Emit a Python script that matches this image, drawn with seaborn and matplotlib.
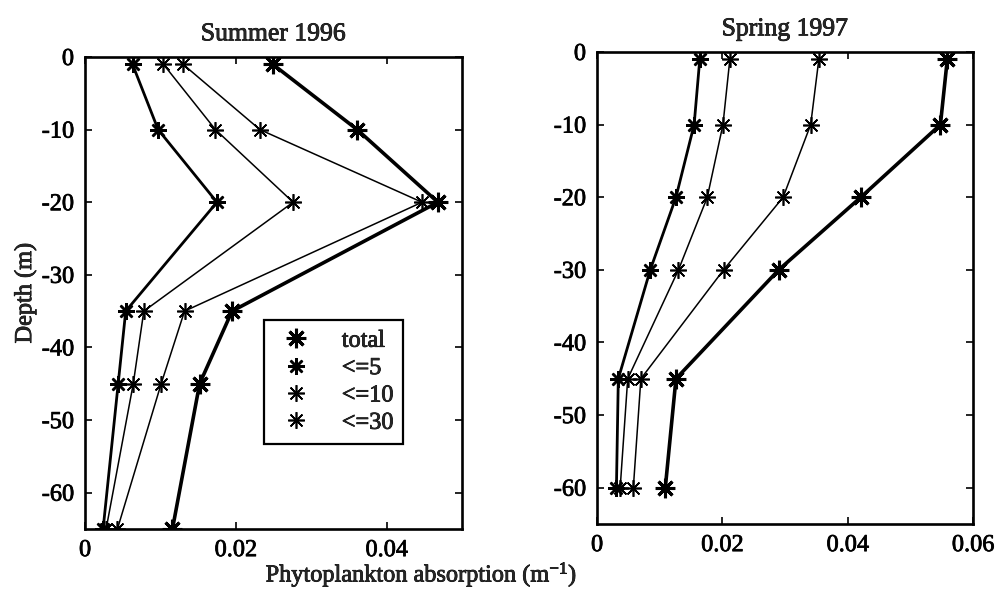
import matplotlib
matplotlib.use("Agg")
import matplotlib.pyplot as plt
import matplotlib.patheffects as pe
from matplotlib.lines import Line2D
import numpy as np
import pandas as pd
import seaborn as sns

# ---- data ----
summer_depth = [-1, -10, -20, -35, -45, -65]
summer_total = [0.0249, 0.0361, 0.0468, 0.0195, 0.0152, 0.0116]
summer_le5 = [0.0063, 0.0097, 0.0175, 0.0054, 0.0044, 0.0024]
summer_le10 = [0.0104, 0.0173, 0.0276, 0.0078, 0.0064, 0.0028]
summer_le30 = [0.0130, 0.0232, 0.0447, 0.0132, 0.0101, 0.0043]

spring_depth = [-1, -10, -20, -30, -45, -60]
spring_total = [0.0559, 0.0548, 0.0421, 0.0290, 0.0126, 0.0109]
spring_le5 = [0.0164, 0.0155, 0.0126, 0.0085, 0.0034, 0.0031]
spring_le10 = [0.0212, 0.0201, 0.0176, 0.0130, 0.0049, 0.0037]
spring_le30 = [0.0354, 0.0341, 0.0297, 0.0202, 0.0070, 0.0058]

series_labels = ["total", "<=5", "<=10", "<=30"]
panel_titles = ["Summer 1996", "Spring 1997"]
summer_xticks = [0, 0.02, 0.04]
spring_xticks = [0, 0.02, 0.04, 0.06]
yticks = [0, -10, -20, -30, -40, -50, -60]

sns.set_style("ticks")
plt.rcParams["font.family"] = ["Liberation Serif", "DejaVu Serif"]
plt.rcParams["mathtext.fontset"] = "custom"
plt.rcParams["mathtext.rm"] = "Liberation Serif"
plt.rcParams["mathtext.it"] = "Liberation Serif"

FS = 17.5
INK = [pe.withStroke(linewidth=0.55, foreground="black")]
styles = {
    "total": dict(lw=2.6, ms=14, mew=2.2),
    "<=5": dict(lw=2.0, ms=12, mew=1.8),
    "<=10": dict(lw=1.1, ms=12, mew=1.2),
    "<=30": dict(lw=1.1, ms=12, mew=1.2),
}
MK = (8, 2, 0)

fig = plt.figure(figsize=(10.05, 5.9), dpi=100)
W, H = 1005, 590
ax1 = fig.add_axes([85 / W, 1 - 529 / H, 377 / W, 472 / H])
ax2 = fig.add_axes([597 / W, 1 - 524 / H, 376 / W, 472 / H])

panels = [
    (ax1, summer_depth, [summer_total, summer_le5, summer_le10, summer_le30], (0, 0.05), summer_xticks),
    (ax2, spring_depth, [spring_total, spring_le5, spring_le10, spring_le30], (0, 0.06), spring_xticks),
]

for (ax, depth, series, xlim, xt), title in zip(panels, panel_titles):
    for lab, vals in zip(series_labels, series):
        df = pd.DataFrame({"absorption": vals, "depth": depth})
        st = styles[lab]
        sns.lineplot(data=df, x="absorption", y="depth", sort=False, estimator=None,
                     color="black", linewidth=st["lw"], marker=MK, markersize=st["ms"],
                     markeredgewidth=st["mew"], markeredgecolor="black",
                     legend=False, ax=ax)
    ax.set_xlim(*xlim)
    ax.set_ylim(-65, 0)
    ax.set_xticks(xt)
    ax.set_xticklabels([("%g" % v) for v in xt])
    ax.set_yticks(yticks)
    ax.set_yticklabels([str(v) for v in yticks])
    ax.tick_params(direction="in", top=True, right=True, length=5, width=1.2,
                   labelsize=FS, pad=8, colors="black")
    for t in ax.get_xticklabels() + ax.get_yticklabels():
        t.set_path_effects(INK)
    for sp in ax.spines.values():
        sp.set_linewidth(1.9)
        sp.set_color("black")
    ax.set_xlabel("")
    ax.set_ylabel("")
    ax.set_title(title, fontsize=18.5, pad=12, path_effects=INK)

ax1.set_ylabel("Depth (m)", fontsize=FS, labelpad=4, path_effects=INK)
fig.text(421 / W, 1 - 575 / H, "Phytoplankton absorption (m$^{-1}$)", fontsize=FS,
         ha="center", va="center", path_effects=INK)

handles = [Line2D([], [], ls="none", color="black", marker=MK,
                  markersize=styles[l]["ms"], markeredgewidth=styles[l]["mew"])
           for l in series_labels]
leg = ax1.legend(handles, series_labels, loc="upper left",
                 bbox_to_anchor=((264 - 85) / 377, 1 - (320 - 57) / 472),
                 borderaxespad=0, prop={"size": FS}, frameon=True,
                 fancybox=False, framealpha=1, edgecolor="black", labelspacing=0.22,
                 handlelength=1.8, handletextpad=1.0, borderpad=0.4)
leg.get_frame().set_linewidth(1.6)
for t in leg.get_texts():
    t.set_path_effects(INK)

fig.savefig("out.png", dpi=100)
